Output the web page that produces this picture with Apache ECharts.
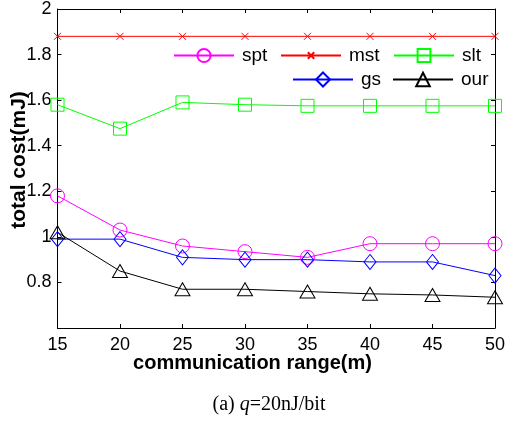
<!DOCTYPE html>
<html>
<head>
<meta charset="utf-8">
<script src="https://cdn.jsdelivr.net/npm/echarts@6/dist/echarts.min.js"></script>
<style>
  html, body { margin: 0; padding: 0; background: #fff; }
  #costLine { width: 508px; height: 423px; }
</style>
</head>
<body>
<div id="costLine"></div>
<script>
// communication range (m)
var ranges = [15, 20, 25, 30, 35, 40, 45, 50];
// total cost (mJ) per method
var spt = [1.18, 1.03, 0.96, 0.935, 0.91, 0.97, 0.97, 0.97];
var mst = [1.88, 1.88, 1.88, 1.88, 1.88, 1.88, 1.88, 1.88];
var slt = [1.58, 1.475, 1.59, 1.58, 1.575, 1.575, 1.575, 1.575];
var gs = [0.99, 0.99, 0.91, 0.90, 0.90, 0.89, 0.89, 0.83];
var our = [1.02, 0.85, 0.77, 0.77, 0.76, 0.75, 0.745, 0.735];

var fontName = "'Liberation Sans', Arial, sans-serif";

function pairs(vals) {
    return ranges.map(function (x, i) { return [x, vals[i]]; });
}

function mkSeries(name, vals, color, symbol, size) {
    return {
        name: name,
        type: 'line',
        data: pairs(vals),
        symbol: symbol,
        symbolSize: size,
        showSymbol: true,
        lineStyle: { color: color, width: 1 },
        itemStyle: { color: 'rgba(0,0,0,0)', borderColor: color, borderWidth: 1 },
        emphasis: { disabled: true },
        animation: false
    };
}

// one legend per entry so each marker keeps its own size (marker = 0.8 * itemHeight)
function mkLegend(name, left, top, h) {
    return {
        data: [name],
        left: left, top: top, padding: 0,
        itemWidth: 60, itemHeight: h,
        textStyle: { fontFamily: fontName, fontSize: 19, color: '#000', padding: [0, 0, 0, 3] },
        selectedMode: false
    };
}

var xMark = 'path://M0,0L10,10M10,0L0,10';

var costChart = echarts.init(document.getElementById('costLine'));
var option = {
    backgroundColor: '#fff',
    animation: false,
    grid: { left: 57.5, right: 11, top: 9, bottom: 95 },
    legend: [
        mkLegend('spt', 173, 46, 16.5),
        mkLegend('mst', 280, 46, 8),
        mkLegend('slt', 393, 46, 16),
        mkLegend('gs', 292, 70, 17.5),
        mkLegend('our', 392, 70, 17)
    ],
    xAxis: [
        {
            type: 'value', min: 15, max: 50, interval: 5,
            axisLine: { lineStyle: { color: '#000', width: 1 } },
            axisTick: { inside: true, length: 4, lineStyle: { color: '#000' } },
            axisLabel: { fontFamily: fontName, fontSize: 18, color: '#000', margin: 8 },
            splitLine: { show: false }
        },
        {
            type: 'value', position: 'top', min: 15, max: 50, interval: 5,
            axisLine: { show: true, onZero: false, lineStyle: { color: '#000', width: 1 } },
            axisTick: { inside: true, length: 4, lineStyle: { color: '#000' } },
            axisLabel: { show: false },
            splitLine: { show: false }
        }
    ],
    yAxis: [
        {
            type: 'value', min: 0.6, max: 2, interval: 0.2,
            axisLine: { show: true, onZero: false, lineStyle: { color: '#000', width: 1 } },
            axisTick: { inside: true, length: 4, lineStyle: { color: '#000' } },
            axisLabel: {
                fontFamily: fontName, fontSize: 18, color: '#000', margin: 6,
                formatter: function (v) {
                    if (v < 0.7) return '';
                    return String(Math.round(v * 10) / 10);
                }
            },
            splitLine: { show: false }
        },
        {
            type: 'value', position: 'right', min: 0.6, max: 2, interval: 0.2,
            axisLine: { show: true, onZero: false, lineStyle: { color: '#000', width: 1 } },
            axisTick: { inside: true, length: 4, lineStyle: { color: '#000' } },
            axisLabel: { show: false },
            splitLine: { show: false }
        }
    ],
    graphic: [
        {   // y label
            type: 'text', x: 19, y: 160, rotation: Math.PI / 2,
            style: {
                text: 'total cost(mJ)', font: 'bold 21px ' + fontName, fill: '#000',
                textAlign: 'center', textVerticalAlign: 'middle'
            }
        },
        {   // x label
            type: 'text', x: 252.5, y: 363,
            style: {
                text: 'communication range(m)', font: 'bold 20px ' + fontName, fill: '#000',
                textAlign: 'center', textVerticalAlign: 'middle'
            }
        },
        {   // caption
            type: 'text', x: 269, y: 405,
            style: {
                text: '{n|(a) }{i|q}{n|=20nJ/bit}',
                textAlign: 'center', textVerticalAlign: 'middle',
                rich: {
                    n: { fontFamily: "'Liberation Serif', 'Times New Roman', serif", fontSize: 20, color: '#000' },
                    i: { fontFamily: "'Liberation Serif', 'Times New Roman', serif", fontSize: 20, fontStyle: 'italic', color: '#000' }
                }
            }
        }
    ],
    series: [
        mkSeries('spt', spt, '#ff00ff', 'circle', 14),
        mkSeries('mst', mst, '#ff0000', xMark, 7),
        mkSeries('slt', slt, '#00ff00', 'rect', 13),
        mkSeries('gs', gs, '#0000ff', 'diamond', [12, 15]),
        mkSeries('our', our, '#000000', 'triangle', [15, 13])
    ]
};
costChart.setOption(option);
</script>
</body>
</html>
